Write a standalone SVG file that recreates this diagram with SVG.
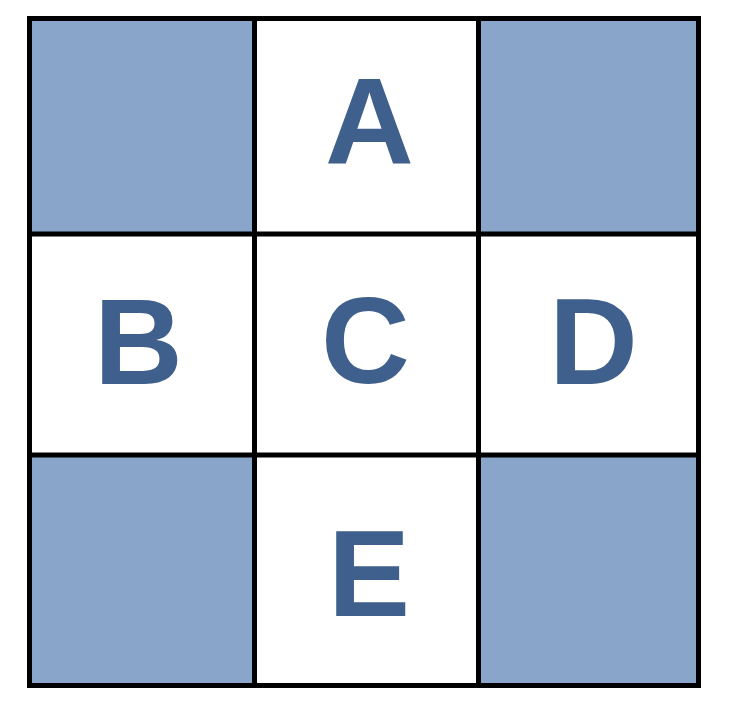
<svg xmlns="http://www.w3.org/2000/svg" width="741" height="717" viewBox="0 0 741 717">
<style>
.shade{fill:#89A5CA;stroke:none}
.lbl{font-family:"Liberation Sans",Arial,sans-serif;font-weight:bold;font-size:123px;fill:#3F5F8C;text-anchor:middle}
.grid{stroke:#000;stroke-width:5;fill:none}
</style>
<rect width="741" height="717" fill="#fff"/>
<g id="corners">
<rect class="shade" x="29.5" y="18.5" width="225" height="215.5"/>
<rect class="shade" x="478.5" y="18.5" width="220" height="215.5"/>
<rect class="shade" x="29.5" y="455" width="225" height="230.5"/>
<rect class="shade" x="478.5" y="455" width="220" height="230.5"/>
</g>
<g id="nodeA"><text class="lbl" x="369.5" y="164">A</text></g>
<g id="nodeB"><text class="lbl" x="138.5" y="384">B</text></g>
<g id="nodeC"><text class="lbl" x="365.5" y="383">C</text></g>
<g id="nodeD"><text class="lbl" x="593.5" y="384">D</text></g>
<g id="nodeE"><text class="lbl" x="369" y="616">E</text></g>
<g id="gridlines" class="grid">
<rect x="29.5" y="18.5" width="669" height="667"/>
<line x1="254.5" y1="18.5" x2="254.5" y2="685.5"/>
<line x1="478.5" y1="18.5" x2="478.5" y2="685.5"/>
<line x1="29.5" y1="234" x2="698.5" y2="234"/>
<line x1="29.5" y1="455" x2="698.5" y2="455"/>
</g>
</svg>
